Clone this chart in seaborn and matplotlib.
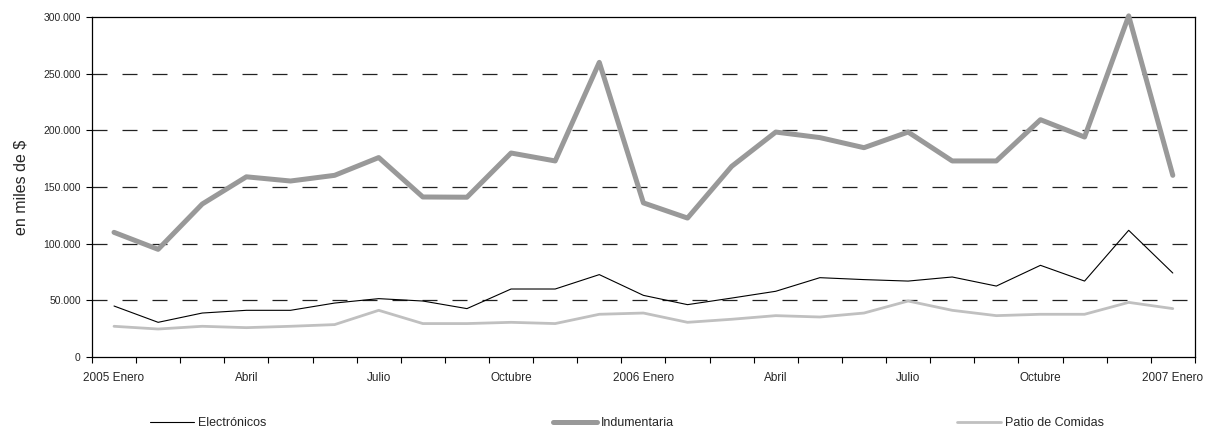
import matplotlib
matplotlib.use("Agg")
import matplotlib.pyplot as plt
import matplotlib.ticker as mticker
import numpy as np
import pandas as pd
import seaborn as sns

months = ["2005 Enero", "Febrero", "Marzo", "Abril", "Mayo", "Junio", "Julio",
          "Agosto", "Septiembre", "Octubre", "Noviembre", "Diciembre",
          "2006 Enero", "Febrero", "Marzo", "Abril", "Mayo", "Junio", "Julio",
          "Agosto", "Septiembre", "Octubre", "Noviembre", "Diciembre", "2007 Enero"]
tick_labels = ["2005 Enero", "Abril", "Julio", "Octubre", "2006 Enero",
               "Abril", "Julio", "Octubre", "2007 Enero"]

electronicos = [45000, 30600, 38800, 41200, 41200, 47600, 51500, 49400, 42700,
                60000, 60000, 72700, 54400, 46200, 52000, 58000, 70000, 68300,
                67000, 70600, 62600, 80900, 67000, 111800, 74100]
indumentaria = [110000, 95000, 135000, 159000, 155300, 160300, 176000, 141200,
                141000, 180000, 173000, 260000, 136000, 122600, 168200, 198500,
                193600, 184700, 198500, 173000, 173000, 209400, 194100, 301000,
                160300]
patio = [27100, 24700, 27100, 25900, 27100, 28600, 41200, 29500, 29500, 30600,
         29500, 37700, 38800, 30600, 33300, 36500, 35300, 38800, 49400, 41200,
         36500, 37700, 37700, 48200, 42700]

series_names = ["Electrónicos", "Indumentaria", "Patio de Comidas"]
series_values = [electronicos, indumentaria, patio]

rows = []
for name, vals in zip(series_names, series_values):
    for i, v in enumerate(vals):
        rows.append({"idx": i, "mes": months[i], "valor": v, "serie": name})
df = pd.DataFrame(rows)

sns.set_style("white")
plt.rcParams['font.family'] = ['Liberation Sans', 'DejaVu Sans']

fig = plt.figure(figsize=(12.18, 4.32), dpi=100)
ax = fig.add_axes([0.0755, 0.1736, 0.9055, 0.787])

palette = {"Electrónicos": "#000000", "Indumentaria": "#999999",
           "Patio de Comidas": "#c0c0c0"}
widths = {"Electrónicos": 0.8, "Indumentaria": 3.6, "Patio de Comidas": 2.0}

for yv in [50000, 100000, 150000, 200000, 250000]:
    ax.axhline(yv, color="#222222", lw=0.9, ls=(0, (12, 12)), zorder=1)

for name in series_names:
    sub = df[df["serie"] == name]
    sns.lineplot(data=sub, x="idx", y="valor", ax=ax, color=palette[name],
                 linewidth=widths[name], label=name, zorder=3, clip_on=False)

ax.set_xlim(-0.5, 24.5)
ax.set_ylim(0, 300000)
ax.set_xticks(np.arange(0, 25, 3))
ax.set_xticklabels(tick_labels)
ax.set_xticks(np.arange(-0.5, 25, 1), minor=True)
ax.tick_params(axis="x", which="major", length=0, pad=11, labelsize=8.5)
ax.tick_params(axis="x", which="minor", length=4, width=0.8, color="black",
               direction="out", bottom=True)
ax.set_yticks(np.arange(0, 300001, 50000))
ax.yaxis.set_major_formatter(mticker.FuncFormatter(
    lambda v, p: f"{v:,.0f}".replace(",", ".")))
ax.tick_params(axis="y", length=4, width=0.8, color="black", direction="out",
               left=True, labelsize=7.5, pad=4)
ax.set_xlabel("")
ax.set_ylabel("en miles de $", fontsize=11.5, labelpad=11)
for s in ax.spines.values():
    s.set_color("black")
    s.set_linewidth(0.9)

ax.get_legend().remove()
handles, labels = ax.get_legend_handles_labels()
legend_x = [150, 553, 957]
for h, l, xp in zip(handles, labels, legend_x):
    fig.legend([h], [l], loc="center left",
               bbox_to_anchor=(xp / 1218, 1 - 423 / 432), frameon=False,
               fontsize=9, handlelength=3.5, handletextpad=0.35,
               borderaxespad=0, borderpad=0)

fig.savefig("out.png", dpi=100)
